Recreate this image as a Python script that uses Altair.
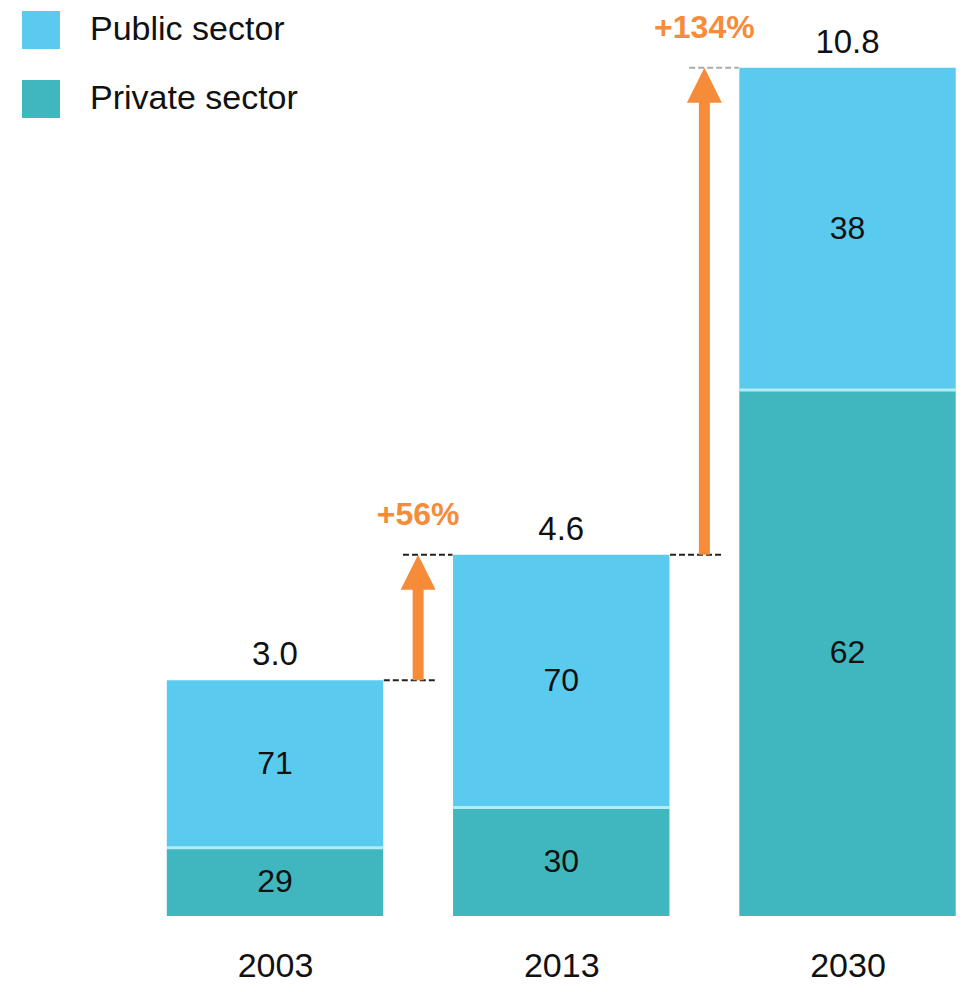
import altair as alt
import pandas as pd

# ---- data ----
years = ["2003", "2013", "2030"]
totals = [3.0, 4.6, 10.8]
public_share = [71, 70, 38]
private_share = [29, 30, 62]
growth_labels = ["+56%", "+134%"]
sectors = ["Public sector", "Private sector"]

# ---- styles ----
FONT = "Liberation Sans"
C_PUBLIC = "#5ACBEE"
C_PRIVATE = "#40B7BF"
C_ORANGE = "#F68B3A"
C_SEAM = "#B4ECF5"
HALF = 0.378  # half bar width in index units

bar_rows, seg_rows, seam_rows, total_rows = [], [], [], []
for i, (yr, tot, pub, pri) in enumerate(zip(years, totals, public_share, private_share)):
    split = tot * pri / 100.0
    bar_rows.append(dict(idx=i, x0=i - HALF, x1=i + HALF, y0=0, y1=split, sector="Private sector"))
    bar_rows.append(dict(idx=i, x0=i - HALF, x1=i + HALF, y0=split, y1=tot, sector="Public sector"))
    seg_rows.append(dict(idx=i, ymid=split / 2, label=str(pri)))
    seg_rows.append(dict(idx=i, ymid=(split + tot) / 2, label=str(pub)))
    seam_rows.append(dict(x0=i - HALF, x1=i + HALF, y=split))
    total_rows.append(dict(idx=i, total=tot, label=f"{tot:.1f}"))

arrow_rows, dash_black, dash_gray = [], [], []
for k, g in enumerate(growth_labels):
    prev, nxt = totals[k], totals[k + 1]
    ax = k + 0.5
    arrow_rows.append(dict(ax=ax, prev=prev, nxt=nxt, label=g))
    dash_black.append(dict(x0=k + 0.38, x1=k + 0.565, y=prev))
    top = dict(x0=k + 0.447, x1=k + 0.62, y=nxt)
    (dash_black if k == 0 else dash_gray).append(top)

bars_df = pd.DataFrame(bar_rows)
seg_df = pd.DataFrame(seg_rows)
seam_df = pd.DataFrame(seam_rows)
total_df = pd.DataFrame(total_rows)
arrow_df = pd.DataFrame(arrow_rows)
dash_black_df = pd.DataFrame(dash_black)
dash_gray_df = pd.DataFrame(dash_gray)

xscale = alt.Scale(domain=[-0.9328, 2.3895], nice=False, zero=False)
yscale = alt.Scale(domain=[0, 11.56], nice=False, zero=False)

label_expr = "[" + ",".join(f"'{y}'" for y in years) + "][datum.value]"
xaxis = alt.Axis(values=[0, 1, 2], labelExpr=label_expr, domain=False, ticks=False, tickSize=0,
                 grid=False, labelFontSize=34, labelFont=FONT, labelColor="#111111",
                 labelPadding=60, labelBaseline="alphabetic", title=None)

bars = alt.Chart(bars_df).mark_bar(strokeWidth=0).encode(
    x=alt.X("x0:Q", scale=xscale, axis=xaxis),
    x2="x1:Q",
    y=alt.Y("y0:Q", scale=yscale, axis=None),
    y2="y1:Q",
    color=alt.Color("sector:N",
                    scale=alt.Scale(domain=sectors, range=[C_PUBLIC, C_PRIVATE]),
                    legend=alt.Legend(title=None, orient="none", legendX=14, legendY=3,
                                      symbolType="square", symbolSize=1444, symbolStrokeWidth=0,
                                      symbolOpacity=1, labelFontSize=34, labelFont=FONT,
                                      labelColor="#111111", labelOffset=30, rowPadding=31,
                                      labelLimit=0, padding=0)),
)

seams = alt.Chart(seam_df).mark_rule(color=C_SEAM, strokeWidth=3).encode(
    x=alt.X("x0:Q", scale=xscale), x2="x1:Q", y=alt.Y("y:Q", scale=yscale)
)

seg_text = alt.Chart(seg_df).mark_text(font=FONT, fontSize=32, color="#111111",
                                       baseline="middle").encode(
    x=alt.X("idx:Q", scale=xscale), y=alt.Y("ymid:Q", scale=yscale), text="label:N"
)

total_text = alt.Chart(total_df).mark_text(font=FONT, fontSize=33, color="#111111",
                                           baseline="alphabetic", dy=-15).encode(
    x=alt.X("idx:Q", scale=xscale), y=alt.Y("total:Q", scale=yscale), text="label:N"
)

dashes_k = alt.Chart(dash_black_df).mark_rule(color="#222222", strokeWidth=2,
                                              strokeDash=[6, 3]).encode(
    x=alt.X("x0:Q", scale=xscale), x2="x1:Q", y=alt.Y("y:Q", scale=yscale)
)
dashes_g = alt.Chart(dash_gray_df).mark_rule(color="#AAAAAA", strokeWidth=2,
                                             strokeDash=[6, 3]).encode(
    x=alt.X("x0:Q", scale=xscale), x2="x1:Q", y=alt.Y("y:Q", scale=yscale)
)

shaft = alt.Chart(arrow_df).mark_rule(color=C_ORANGE, strokeWidth=11, y2Offset=22).encode(
    x=alt.X("ax:Q", scale=xscale), y=alt.Y("prev:Q", scale=yscale), y2="nxt:Q"
)

head = alt.Chart(arrow_df).mark_point(shape="M0,-1L-1,1L1,1Z", size=1225, filled=True,
                                      color=C_ORANGE, opacity=1, strokeWidth=0,
                                      yOffset=17.5).encode(
    x=alt.X("ax:Q", scale=xscale), y=alt.Y("nxt:Q", scale=yscale)
)

growth_text = alt.Chart(arrow_df).mark_text(font=FONT, fontSize=32, fontWeight="bold",
                                            color=C_ORANGE, baseline="alphabetic",
                                            dy=-30).encode(
    x=alt.X("ax:Q", scale=xscale), y=alt.Y("nxt:Q", scale=yscale), text="label:N"
)

chart = alt.layer(
    bars, seams, seg_text, total_text, dashes_k, dashes_g, shaft, head, growth_text
).properties(
    width=951, height=908,
    padding={"left": 0, "right": 0, "top": 0, "bottom": 68},
    autosize="none",
    background="white",
).configure_view(stroke=None, strokeWidth=0)

chart.save("out.html", embed_options={"renderer": "svg", "actions": False})
